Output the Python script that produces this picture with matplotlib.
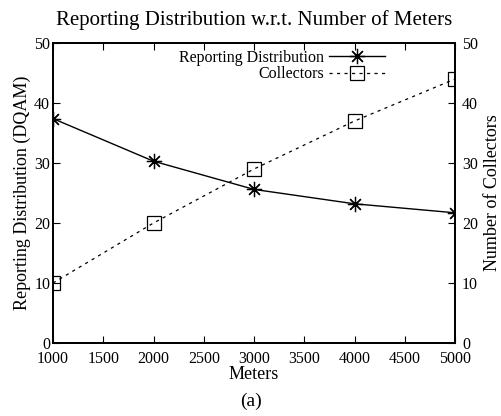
import matplotlib.pyplot as plt

plt.rcParams['font.family'] = ['Liberation Serif', 'DejaVu Serif']

meters = [1000, 2000, 3000, 4000, 5000]
reporting = [37.4, 30.3, 25.6, 23.2, 21.7]
collectors = [10, 20, 29, 37, 44]

fig = plt.figure(figsize=(5.02, 4.16), dpi=100)
ax = fig.add_axes([0.1056, 0.1755, 0.8008, 0.7211])
ax2 = ax.twinx()

l1, = ax.plot(meters, reporting, color='black', lw=1.0, marker=(8, 2, 0),
              markersize=11, markeredgewidth=0.9, label='Reporting Distribution')
l2, = ax2.plot(meters, collectors, color='black', lw=0.9, ls=(0, (2.5, 3.5)),
               marker='s', markersize=9.5, markerfacecolor='none',
               markeredgewidth=0.9, label='Collectors')

ax.set_xlim(1000, 5000)
ax.set_ylim(0, 50)
ax2.set_ylim(0, 50)
ax.set_xticks(range(1000, 5001, 500))
ax.set_yticks(range(0, 51, 10))
ax2.set_yticks(range(0, 51, 10))

fs = 11.5
ax.tick_params(axis='x', direction='in', top=True, length=5, pad=6, labelsize=fs)
ax.tick_params(axis='y', direction='in', length=5, pad=2, labelsize=fs)
ax2.tick_params(axis='y', direction='in', length=5, pad=5, labelsize=fs)
for a in (ax, ax2):
    for s in a.spines.values():
        s.set_linewidth(1.3)

ax.set_xlabel('Meters', fontsize=13, labelpad=-1)
ax.set_ylabel('Reporting Distribution (DQAM)', fontsize=13, labelpad=2)
ax2.set_ylabel('Number of Collectors', fontsize=13, labelpad=4)
ax.set_title('Reporting Distribution w.r.t. Number of Meters', fontsize=15, pad=13)

ax2.legend([l1, l2], ['Reporting Distribution', 'Collectors'], loc='upper right',
           bbox_to_anchor=(0.85, 1.01), frameon=False, markerfirst=False,
           fontsize=fs, handlelength=3.5, handletextpad=0.3, labelspacing=0.05,
           borderaxespad=0.2)

fig.text(0.5, 0.025, '(a)', ha='center', fontsize=14)

fig.savefig('out.png', dpi=100)
